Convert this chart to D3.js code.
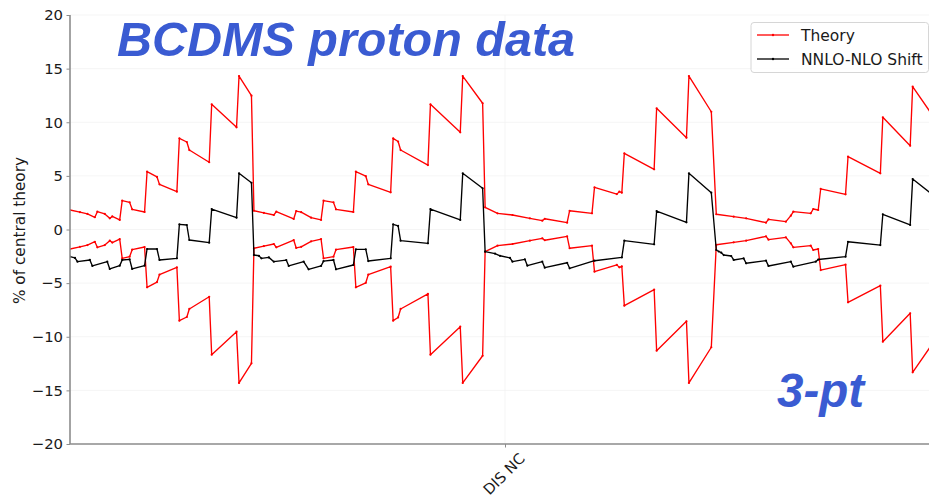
<!DOCTYPE html>
<html>
<head>
<meta charset="utf-8">
<script src="https://cdn.jsdelivr.net/npm/d3@7"></script>
<style>
  html, body { margin: 0; padding: 0; background: #fff; }
  svg { display: block; }
</style>
</head>
<body>
<svg id="chart" width="929" height="498"></svg>
<script>
// ---------------- data ----------------
const xCategories = ["DIS NC"];
const xCategoryPos = [175];
const yTicks = [-20, -15, -10, -5, 0, 5, 10, 15, 20];

// Theory uncertainty (% of central theory); band drawn at +/- value
const theoryIdx = [0,4,7,10,11,14,16,17,20,21,24,25,30,31,35,36,43,44,47,48,56,57,67,68,73,
  74,78,82,83,90,91,93,97,101,102,106,107,114,115,119,120,129,130,132,133,144,145,157,158,166,
  167,172,178,185,190,191,200,201,210,211,220,221,222,223,235,236,248,249,258,
  260,267,272,280,281,288,290,291,298,299,301,302,312,313,326,327,338,339,346];
const theoryPct = [1.82,1.62,1.45,1.14,1.66,1.45,1.04,1.22,0.89,2.69,2.53,1.88,1.63,5.39,4.90,4.21,3.53,8.50,8.16,7.41,6.27,11.67,9.53,14.31,12.48,
  1.75,1.55,1.35,1.66,0.98,1.72,1.62,1.10,0.89,2.69,2.53,1.88,1.63,5.39,4.97,4.21,3.47,8.50,8.20,7.41,6.01,11.67,9.06,14.31,11.77,
  2.07,1.51,1.35,1.04,0.82,1.00,0.64,1.75,1.51,3.93,3.30,3.53,3.43,7.10,5.61,11.30,8.56,14.31,10.98,
  1.42,1.20,1.04,0.64,0.95,0.73,1.29,1.66,1.51,1.91,1.82,3.78,3.28,6.79,5.24,10.46,7.81,13.32,10.98];

// NNLO-NLO shift (% of central theory)
const shiftIdx = [0,2,3,8,9,15,16,20,21,24,25,30,31,35,36,43,44,47,48,56,57,67,68,73,
  74,76,77,80,82,87,88,94,96,101,102,106,107,114,115,119,120,129,130,132,133,144,145,157,158,166,
  167,171,173,177,178,183,184,190,191,200,201,211,222,223,235,236,248,249,258,
  260,261,262,263,266,267,271,272,280,281,290,291,300,301,312,313,326,327,338,339,346];
const shiftPct = [-2.53,-2.65,-3.00,-2.84,-3.40,-3.00,-3.68,-3.37,-2.84,-2.78,-3.68,-3.37,-1.82,-1.82,-2.84,-2.69,0.48,0.42,-0.98,-1.23,1.91,1.10,5.24,4.36,
  -2.38,-2.45,-2.69,-2.60,-3.00,-2.85,-3.40,-3.00,-3.71,-3.40,-2.95,-2.84,-3.71,-3.31,-1.85,-1.85,-2.94,-2.69,0.48,0.33,-1.04,-1.29,1.91,0.89,5.24,3.84,
  -2.07,-2.25,-2.45,-2.65,-3.00,-2.78,-3.37,-3.00,-3.56,-3.10,-3.62,-2.91,-2.60,-1.04,-1.38,1.72,0.67,5.24,3.43,
  -1.91,-2.05,-2.16,-2.38,-2.47,-2.84,-2.69,-3.15,-2.90,-3.40,-3.00,-3.47,-3.00,-2.80,-2.53,-1.14,-1.45,1.42,0.42,4.71,3.43];

const legendLabels = ["Theory", "NNLO-NLO Shift"];
const seriesColors = ["#ff0000", "#000000"];

// ---------------- layout ----------------
const svg = d3.select("#chart");
const margin = {left: 70, right: 929 - 940, top: 15, bottom: 498 - 444};
const W = 929, H = 498;
const x = d3.scaleLinear().domain([0, 350]).range([margin.left, W - margin.right]);
const y = d3.scaleLinear().domain([-20, 20]).range([H - margin.bottom, margin.top]);

svg.append("defs").append("clipPath").attr("id", "plotclip")
  .append("rect").attr("x", margin.left).attr("y", margin.top - 2)
  .attr("width", x.range()[1] - margin.left).attr("height", y.range()[0] - margin.top + 4);

// faint grid
const grid = svg.append("g");
grid.selectAll("line.h").data(yTicks).join("line")
  .attr("x1", margin.left).attr("x2", x.range()[1])
  .attr("y1", d => y(d)).attr("y2", d => y(d))
  .attr("stroke", "#f3f3f3").attr("stroke-width", 0.8);
grid.selectAll("line.v").data(xCategoryPos).join("line")
  .attr("x1", d => x(d)).attr("x2", d => x(d))
  .attr("y1", margin.top).attr("y2", y(-20))
  .attr("stroke", "#f3f3f3").attr("stroke-width", 0.8);

// series
const theoryUp = d3.zip(theoryIdx, theoryPct);
const theoryDn = d3.zip(theoryIdx, theoryPct.map(v => -v));
const shift = d3.zip(shiftIdx, shiftPct);
const line = d3.line().x(d => x(d[0])).y(d => y(d[1]));
const plot = svg.append("g").attr("clip-path", "url(#plotclip)");

function drawSeries(data, color) {
  plot.append("path").datum(data).attr("d", line)
    .attr("fill", "none").attr("stroke", color).attr("stroke-width", 1.35)
    .attr("stroke-linejoin", "round");
  plot.append("g").selectAll("circle").data(data).join("circle")
    .attr("cx", d => x(d[0])).attr("cy", d => y(d[1])).attr("r", 1.1)
    .attr("fill", color);
}
drawSeries(theoryUp, seriesColors[0]);
drawSeries(theoryDn, seriesColors[0]);
drawSeries(shift, seriesColors[1]);

// axes
const axisColor = "#8c8c8c";
const fontAx = "'DejaVu Sans', sans-serif";
const yAxis = svg.append("g").attr("transform", `translate(${margin.left},0)`)
  .call(d3.axisLeft(y).tickValues(yTicks).tickSize(3.5).tickPadding(3.5).tickFormat(d3.format("d")));
const xAxis = svg.append("g").attr("transform", `translate(0,${y(-20)})`)
  .call(d3.axisBottom(x).tickValues(xCategoryPos).tickSize(3.5).tickFormat(() => ""));
[yAxis, xAxis].forEach(g => {
  g.select(".domain").attr("stroke", axisColor).attr("stroke-width", 1.6);
  g.selectAll(".tick line").attr("stroke", axisColor).attr("stroke-width", 1);
});
yAxis.selectAll(".tick text").attr("font-family", fontAx).attr("font-size", 14.8).attr("fill", "#1a1a1a");
yAxis.select(".domain").attr("d", `M0,${y(20)}V${y(-20)}`);
xAxis.select(".domain").attr("d", `M${margin.left},0H${x.range()[1]}`);

// x category label, rotated 45
svg.selectAll("text.xcat").data(xCategories).join("text")
  .attr("class", "xcat")
  .attr("transform", (d, i) => `translate(${x(xCategoryPos[i]) - 1},${y(-20) + 30}) rotate(-45)`)
  .attr("text-anchor", "middle").attr("dy", "0.35em")
  .attr("font-family", fontAx).attr("font-size", 14.8).attr("fill", "#1a1a1a")
  .text(d => d);

// y axis title
svg.append("text")
  .attr("transform", `translate(20,${(y(20) + y(-20)) / 2 + 1}) rotate(-90)`)
  .attr("text-anchor", "middle").attr("dy", "0.35em")
  .attr("font-family", fontAx).attr("font-size", 15.3).attr("fill", "#1a1a1a")
  .text("% of central theory");

// legend
const lg = svg.append("g");
lg.append("rect").attr("x", 751).attr("y", 22.5).attr("width", 177.5).attr("height", 50)
  .attr("rx", 3).attr("fill", "#fff").attr("fill-opacity", 0.85)
  .attr("stroke", "#d6d6d6").attr("stroke-width", 1);
legendLabels.forEach((lab, i) => {
  const yy = 35 + i * 24;
  lg.append("line").attr("x1", 757).attr("x2", 789).attr("y1", yy).attr("y2", yy)
    .attr("stroke", seriesColors[i]).attr("stroke-width", 1.3);
  lg.append("circle").attr("cx", 773).attr("cy", yy).attr("r", 1.2).attr("fill", seriesColors[i]);
  lg.append("text").attr("x", 801).attr("y", yy).attr("dy", "0.36em")
    .attr("font-family", fontAx).attr("font-size", 15.5).attr("fill", "#1a1a1a").text(lab);
});

// annotations
const annColor = "#3a5bd2";
svg.append("text").attr("x", 117).attr("y", 56)
  .attr("font-family", "'Liberation Sans', Arial, sans-serif")
  .attr("font-weight", "bold").attr("font-style", "italic")
  .attr("font-size", 48.5).attr("fill", annColor)
  .text("BCDMS proton data");
svg.append("text").attr("x", 777).attr("y", 407)
  .attr("font-family", "'Liberation Sans', Arial, sans-serif")
  .attr("font-weight", "bold").attr("font-style", "italic")
  .attr("font-size", 47.5).attr("fill", annColor)
  .text("3-pt");
</script>
</body>
</html>
